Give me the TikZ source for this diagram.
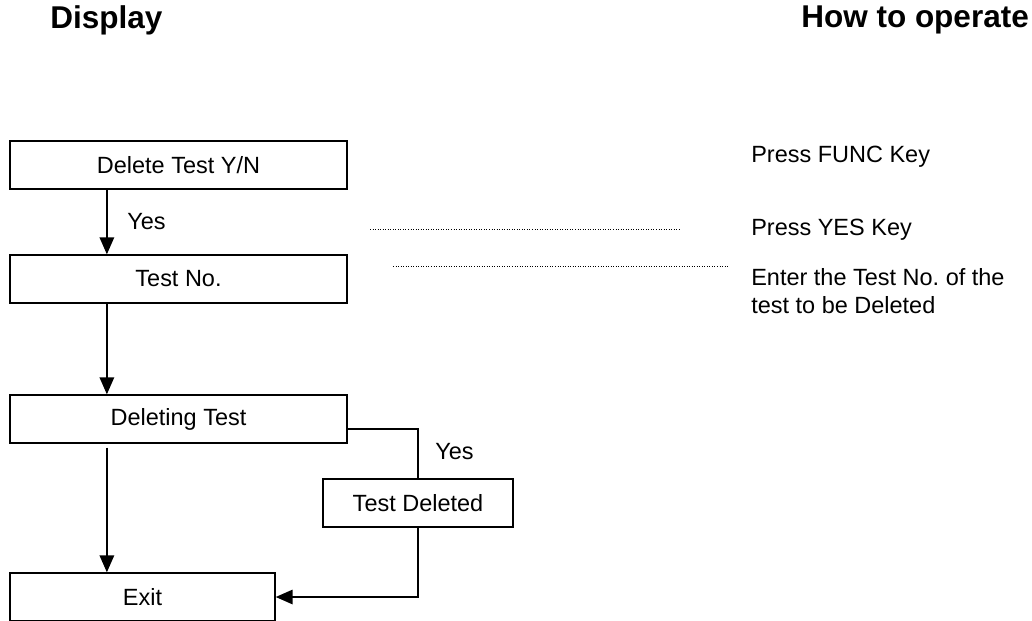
\documentclass[tikz,border=0pt]{standalone}
\usepackage{fontspec}
\setmainfont{Liberation Sans}
\usetikzlibrary{arrows.meta,positioning}

\begin{document}
\begin{tikzpicture}[x=0.025cm,y=-0.025cm,
  box/.style={draw,line width=1pt,minimum height=1.2cm,inner sep=0pt,font=\fontsize{16.7}{20}\selectfont},
  lbl/.style={font=\fontsize{16.7}{20}\selectfont,inner sep=0pt},
  ttl/.style={font=\fontsize{22.4}{26}\selectfont\bfseries,inner sep=0pt},
  flow/.style={line width=1pt,-{Triangle[length=0.42cm,width=0.36cm]}},
  guide/.style={line width=0.6pt,dash pattern=on 0.6pt off 1.2pt}]
\useasboundingbox (0,0) rectangle (1032,620);
% headings
\node[ttl,anchor=west] (disp) at (50,20) {Display};
\node[ttl,anchor=west] (how) at (801,20) {How to operate};

% display boxes
\node[box,minimum width=8.425cm] (del) at (178.5,165) {Delete Test Y/N};
\node[box,minimum width=8.425cm] (num) at (178.5,279) {Test No.};
\node[box,minimum width=8.425cm] (ing) at (178.5,419) {Deleting Test};
\node[box,minimum width=4.75cm] (done) at (418,503) {Test Deleted};
\node[box,minimum width=6.625cm] (exit) at (142.5,597) {Exit};

% flow
\draw[flow] ([xshift=-1.79cm]del.south) -- ([xshift=-1.79cm]num.north);
\node[lbl,anchor=west] (yes1) at (127,222) {Yes};
\draw[flow] ([xshift=-1.79cm]num.south) -- ([xshift=-1.79cm]ing.north);
\draw[flow] ([xshift=-1.79cm,yshift=-0.1cm]ing.south) coordinate (s3) -- (s3 |- exit.north);
\draw[line width=1pt] ([yshift=-0.25cm]ing.east) -| (done.north);
\node[lbl,anchor=west] (yes2) at (435,452) {Yes};
\draw[flow] (done.south) |- (exit.east);

% how to operate
\node[lbl,anchor=west] (func) at (751,157) {Press FUNC Key};
\node[lbl,anchor=west] (yeskey) at (751,230) {Press YES Key};
\node[lbl,anchor=west,align=left] (enter) at (751,291) {Enter the Test No.\ of the\\test to be Deleted};

\coordinate (g1a) at (370,229);
\coordinate (g1b) at (680,229);
\coordinate (g2a) at (393,266);
\coordinate (g2b) at (728,266);
\draw[guide] (g1a) -- (g1b);
\draw[guide] (g2a) -- (g2b);
\end{tikzpicture}
\end{document}
